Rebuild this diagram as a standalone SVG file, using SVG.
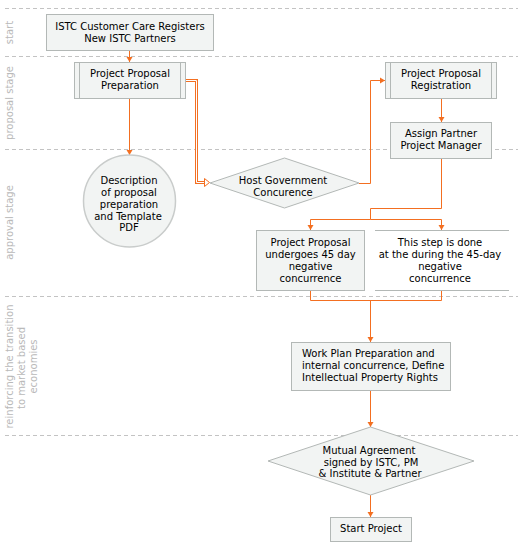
<svg xmlns="http://www.w3.org/2000/svg" width="523" height="548" viewBox="0 0 523 548">
<style>
text{font-family:"DejaVu Sans","Liberation Sans",sans-serif;font-size:10px;fill:#000;text-anchor:middle}
.lane{fill:#b9b9b9}
.box{fill:#f2f4f3;stroke:#b3b8b6;stroke-width:1}
.sep{stroke:#c3c3c3;stroke-width:1;stroke-dasharray:4 3;fill:none}
.con{fill:none;stroke:#f36f21;stroke-width:1}
</style>
<defs>
<marker id="ah" markerUnits="userSpaceOnUse" markerWidth="8" markerHeight="8" refX="5" refY="3.5" orient="auto">
<path d="M0,0.5 L5,3.5 L0,6.5 z" fill="#f36f21"/>
</marker>
</defs>
<rect width="523" height="548" fill="#fff"/>
<g id="lanes">
<path class="sep" d="M5,8.5H518M5,56.5H518M5,149.5H518M5,296.5H518M5,435.5H518"/>
<text class="lane" transform="translate(13,32.5) rotate(-90)">start</text>
<text class="lane" transform="translate(13,103) rotate(-90)">proposal stage</text>
<text class="lane" transform="translate(13,222.5) rotate(-90)">approval stage</text>
<text class="lane" transform="translate(13,366.5) rotate(-90)">reinforcing the transition</text>
<text class="lane" transform="translate(25,368) rotate(-90)">to market based</text>
<text class="lane" transform="translate(37,366.5) rotate(-90)">economies</text>
</g>
<g id="connectors">
<path class="con" d="M129.5,50.5V62" marker-end="url(#ah)"/>
<path class="con" d="M129.5,98.5V155" marker-end="url(#ah)"/>
<path d="M185,80.5H196.5V182.5H205" fill="none" stroke="#f36f21" stroke-width="3"/>
<path d="M185,80.5H196.5V182.5H206" fill="none" stroke="#fff" stroke-width="1"/>
<path d="M204.5,178.5L209.5,182.5L204.5,186.5z" fill="#fff" stroke="#f36f21" stroke-width="1"/>
<path class="con" d="M359,183.5H370.5V80.5H385" marker-end="url(#ah)"/>
<path class="con" d="M441.5,98.5V122" marker-end="url(#ah)"/>
<path class="con" d="M441.5,158.5V208.5H370.5V219.5"/>
<path class="con" d="M370.5,219.5H310.5V230" marker-end="url(#ah)"/>
<path class="con" d="M370.5,219.5H441.5V230" marker-end="url(#ah)"/>
<path class="con" d="M310.5,290.5V300.5H441.5V290.5"/>
<path class="con" d="M370.5,300.5V342" marker-end="url(#ah)"/>
<path class="con" d="M370.5,390.5V427" marker-end="url(#ah)"/>
<path class="con" d="M370.5,495V517" marker-end="url(#ah)"/>
</g>
<g id="n1">
<rect class="box" x="46.5" y="14.5" width="167" height="36"/>
<text x="130" y="29.5">ISTC Customer Care Registers</text>
<text x="130" y="41.5">New ISTC Partners</text>
</g>
<g id="n2">
<rect class="box" x="74.5" y="62.5" width="111" height="36"/>
<path d="M79.5,62.5V98.5M180.5,62.5V98.5" stroke="#b3b8b6"/>
<text x="130" y="77">Project Proposal</text>
<text x="130" y="89">Preparation</text>
</g>
<g id="n3">
<rect class="box" x="385.5" y="62.5" width="111" height="36"/>
<path d="M390.5,62.5V98.5M491.5,62.5V98.5" stroke="#b3b8b6"/>
<text x="441" y="77">Project Proposal</text>
<text x="441" y="89">Registration</text>
</g>
<g id="n4">
<rect class="box" x="390.5" y="122.5" width="101" height="36"/>
<text x="441" y="137">Assign Partner</text>
<text x="441" y="149">Project Manager</text>
</g>
<g id="n_circle">
<circle cx="129.5" cy="201" r="46" fill="#f2f4f3" stroke="#c9cccb" stroke-width="1.5"/>
<text x="129" y="183.5">Description</text>
<text x="129" y="195.5">of proposal</text>
<text x="129" y="207.5">preparation</text>
<text x="128" y="219.5">and Template</text>
<text x="129" y="231">PDF</text>
</g>
<g id="n_host">
<polygon class="box" points="210,183 284.5,158 359,183 284.5,208"/>
<text x="283" y="183.5">Host Government</text>
<text x="283" y="195.5">Concurence</text>
</g>
<g id="n5">
<rect class="box" x="256.5" y="230.5" width="108" height="60"/>
<text x="310.5" y="246">Project Proposal</text>
<text x="310.5" y="258">undergoes 45 day</text>
<text x="310.5" y="270">negative</text>
<text x="310.5" y="282">concurrence</text>
</g>
<g id="n6">
<path d="M375,230.5H509M375,290.5H509" stroke="#b3b8b6" fill="none"/>
<text x="440" y="246">This step is done</text>
<text x="440" y="258">at the during the 45-day</text>
<text x="440" y="270">negative</text>
<text x="440" y="282">concurrence</text>
</g>
<g id="n7">
<rect class="box" x="291.5" y="342.5" width="159" height="48"/>
<text x="302" y="357" style="text-anchor:start">Work Plan Preparation and</text>
<text x="302" y="369" style="text-anchor:start">internal concurrence, Define</text>
<text x="302" y="381" style="text-anchor:start">Intellectual Property Rights</text>
</g>
<g id="n_mutual">
<polygon class="box" points="268,461 370.5,427 474,461 370.5,495"/>
<text x="369" y="453.5">Mutual Agreement</text>
<text x="371" y="465.5">signed by ISTC, PM</text>
<text x="370" y="477">&amp; Institute &amp; Partner</text>
</g>
<g id="n_start">
<rect class="box" x="330.5" y="517.5" width="81" height="24"/>
<text x="371" y="532">Start Project</text>
</g>
</svg>
